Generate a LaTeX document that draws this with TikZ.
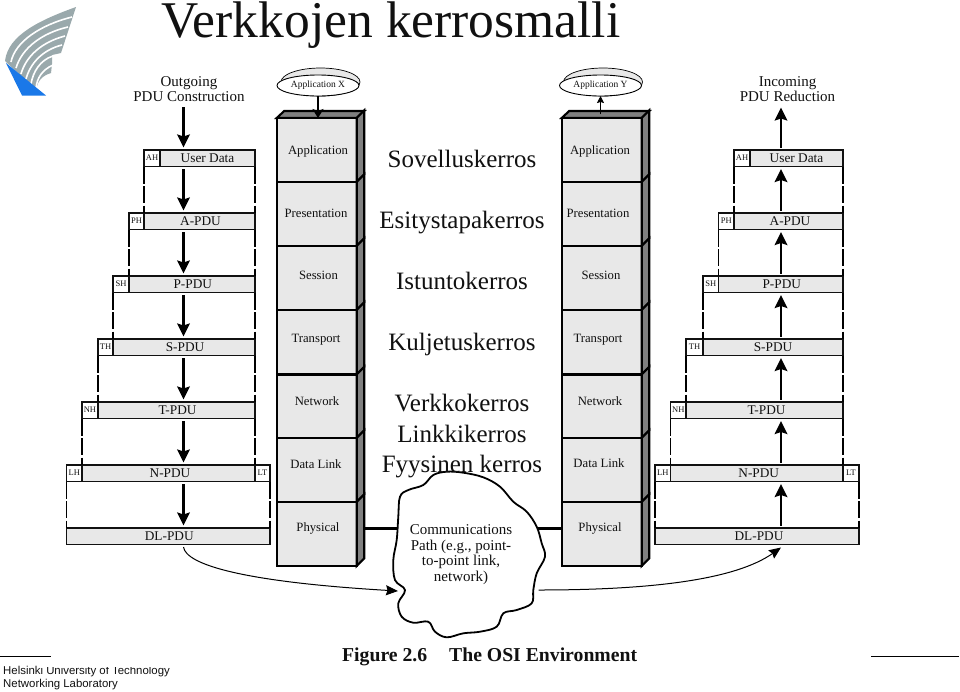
\documentclass[tikz,border=0pt]{standalone}
\usepackage{fontspec}
\setmainfont{Liberation Serif}
\newfontfamily\arialfont{Liberation Sans}
\usetikzlibrary{arrows.meta,calc,shapes.geometric}
\definecolor{layerfill}{HTML}{E8E8E8}
\definecolor{sidefill}{HTML}{808080}
\definecolor{ink}{HTML}{111111}
\definecolor{logogrey}{HTML}{9AA9AC}
\definecolor{logoblue}{HTML}{1A78E8}
\newcommand{\fs}[1]{\fontsize{#1}{#1}\selectfont}
% \pdubox{name}{x1}{x2}{y1}{text}{fill}{font size}
\newcommand{\pdubox}[7]{%
  \pgfmathsetmacro{\bw}{#3-#2}\pgfmathsetmacro{\cx}{(#3+#2)/2}\pgfmathsetmacro{\cy}{#4+8.25}%
  \node[pdurect,fill=#6,minimum width=\bw pt] (#1) at (\cx,\cy) {\fs{#7}\raisebox{1.2pt}{#5}};}
% \layerbox{name}{x1}{y1}{y2}{labelx}{baseline}{text}
\newcommand{\layerbox}[7]{%
  \pgfmathsetmacro{\cx}{#2+40}\pgfmathsetmacro{\cy}{(#3+#4)/2}\pgfmathsetmacro{\bh}{#4-#3}%
  \node[layerrect,minimum height=\bh pt] (#1) at (\cx,\cy) {};
  \node[layertext] (#1t) at (#5,#6) {#7};
  \draw[stackline,fill=sidefill] (#2+80,#4) -- (#2+87.5,#4-7.5) -- (#2+87.5,#3-7.5) -- (#2+80,#3) -- cycle;}
\tikzset{
  x=1pt,y=-1pt,
  pdurect/.style={draw=ink,line width=1.1pt,minimum height=16.5pt,inner sep=0pt,outer sep=0pt,text=ink},
  layerrect/.style={draw=black,line width=2.1pt,fill=layerfill,minimum width=80pt,inner sep=0pt,outer sep=0pt},
  stackline/.style={draw=black,line width=2.1pt,line join=miter},
  layertext/.style={font=\fs{12.7},text=ink,inner sep=0pt,anchor=base},
  fintext/.style={font=\fs{25},text=ink,inner sep=0pt,anchor=base},
  captext/.style={font=\fs{15},text=ink,inner sep=0pt,align=center},
  flowarrow/.style={draw=black,line width=2.4pt,-{Stealth[length=13pt,width=12.5pt,inset=2pt]},shorten <=2.5pt,shorten >=2.5pt},
  guide/.style={draw=black,line width=1.05pt,dash pattern=on 17pt off 2.5pt},
  curvearrow/.style={draw=black,line width=1pt,-{Stealth[length=12pt,width=10pt,inset=1.5pt]}},
  linkline/.style={draw=black,line width=3pt},
  appoval/.style={ellipse,draw=black,fill=white,line width=0.9pt,minimum width=82pt,minimum height=21pt,inner sep=0pt,outer sep=0pt,font=\fs{9.5},text=ink},
  appback/.style={draw=black,fill=layerfill,line width=0.7pt},
}
\begin{document}
\begin{tikzpicture}
\useasboundingbox (0,0) rectangle (960,691);
\fill[white] (0,0) rectangle (960,691);

% logo
\fill[logogrey] (5,61) .. controls (8,35) and (40,20) .. (76,7) -- (61,53) -- (52,55) -- (52,64) -- (51,73) .. controls (42,76) and (38,80) .. (36,90) -- cycle;
\foreach \a/\b/\c/\d in {{11,62}/{15,42}/{40,25}/{72,17},{16,68}/{22,48}/{42,33}/{68,27},{21,74}/{26,56}/{42,42}/{65,36},{26,79}/{30,64}/{42,50}/{62,45},{31,84}/{33,72}/{40,60}/{53,56},{36,88}/{37,78}/{42,70}/{53,65}}
  \draw[white,line width=1.6pt] (\a) .. controls (\b) and (\c) .. (\d);
\fill[logoblue] (6,63) -- (46,95.5) -- (22,95.5) -- cycle;

% title
\node[anchor=base,inner sep=0pt,font=\fs{51.5},text=ink] (title) at (391,37) {Verkkojen kerrosmalli};

% left PDU column
\node[captext] (outgoing) at (189,89) {Outgoing\\[0.5pt]PDU Construction};
\pdubox{ah}{144}{160}{150}{AH}{white}{8.5}
\pdubox{ud}{160}{255}{150}{User Data}{layerfill}{13.3}
\pdubox{ph}{129}{144}{213}{PH}{white}{8.5}
\pdubox{apdu}{144}{255}{213}{\hspace{2pt}A-PDU}{layerfill}{13.3}
\pdubox{sh}{113}{129}{276}{SH}{white}{8.5}
\pdubox{ppdu}{129}{255}{276}{\hspace{1.5pt}P-PDU}{layerfill}{13.3}
\pdubox{th}{98}{113}{339}{TH}{white}{8.5}
\pdubox{spdu}{113}{255}{339}{\hspace{2pt}S-PDU}{layerfill}{13.3}
\pdubox{nh}{82}{98}{402}{NH}{white}{8.5}
\pdubox{tpdu}{98}{255}{402}{\hspace{2pt}T-PDU}{layerfill}{13.3}
\pdubox{lh}{66.5}{82}{465}{LH}{white}{8.5}
\pdubox{npdu}{82}{255}{465}{\hspace{3pt}N-PDU}{layerfill}{13.3}
\pdubox{lt}{255}{270}{465}{LT}{white}{8.5}
\pdubox{dl}{66.5}{270}{528}{\hspace{2pt}DL-PDU}{layerfill}{13.3}

\coordinate (axl) at (183.5,0);
\draw[flowarrow] ([yshift=-3pt]axl |- outgoing.south) -- (axl |- ud.north);
\draw[flowarrow] (axl |- ud.south) -- (axl |- apdu.north);
\draw[flowarrow] (axl |- apdu.south) -- (axl |- ppdu.north);
\draw[flowarrow] (axl |- ppdu.south) -- (axl |- spdu.north);
\draw[flowarrow] (axl |- spdu.south) -- (axl |- tpdu.north);
\draw[flowarrow] (axl |- tpdu.south) -- (axl |- npdu.north);
\draw[flowarrow] (axl |- npdu.south) -- (axl |- dl.north);

\draw[guide] (ah.south west) -- (apdu.north west);
\draw[guide] (ud.south east) -- (apdu.north east);
\draw[guide] (ph.south west) -- (ppdu.north west);
\draw[guide] (apdu.south east) -- (ppdu.north east);
\draw[guide] (sh.south west) -- (spdu.north west);
\draw[guide] (ppdu.south east) -- (spdu.north east);
\draw[guide] (th.south west) -- (tpdu.north west);
\draw[guide] (spdu.south east) -- (tpdu.north east);
\draw[guide] (nh.south west) -- (npdu.north west);
\draw[guide] (tpdu.south east) -- (npdu.north east);
\draw[guide] (lh.south west) -- (dl.north west);
\draw[guide] (lt.south east) -- (dl.north east);

% right PDU column
\node[captext] (incoming) at (787.5,89) {Incoming\\[0.5pt]PDU Reduction};
\pdubox{rah}{734}{750}{150}{AH}{white}{8.5}
\pdubox{rud}{750}{843}{150}{User Data}{layerfill}{13.3}
\pdubox{rph}{718.5}{734}{213}{PH}{white}{8.5}
\pdubox{rapdu}{734}{843}{213}{\hspace{3pt}A-PDU}{layerfill}{13.3}
\pdubox{rsh}{703}{718.5}{276}{SH}{white}{8.5}
\pdubox{rppdu}{718.5}{843}{276}{\hspace{2pt}P-PDU}{layerfill}{13.3}
\pdubox{rth}{686}{703}{339}{TH}{white}{8.5}
\pdubox{rspdu}{703}{843}{339}{S-PDU}{layerfill}{13.3}
\pdubox{rnh}{670.5}{686}{402}{NH}{white}{8.5}
\pdubox{rtpdu}{686}{843}{402}{\hspace{4pt}T-PDU}{layerfill}{13.3}
\pdubox{rlh}{655}{670.5}{465}{LH}{white}{8.5}
\pdubox{rnpdu}{670.5}{843}{465}{\hspace{4pt}N-PDU}{layerfill}{13.3}
\pdubox{rlt}{843}{859}{465}{LT}{white}{8.5}
\pdubox{rdl}{655}{859}{528}{\hspace{4pt}DL-PDU}{layerfill}{13.3}

\coordinate (axr) at (781,0);
\draw[flowarrow] (axr |- rud.north) -- ([yshift=-3pt]axr |- incoming.south);
\draw[flowarrow] (axr |- rapdu.north) -- (axr |- rud.south);
\draw[flowarrow] (axr |- rppdu.north) -- (axr |- rapdu.south);
\draw[flowarrow] (axr |- rspdu.north) -- (axr |- rppdu.south);
\draw[flowarrow] (axr |- rtpdu.north) -- (axr |- rspdu.south);
\draw[flowarrow] (axr |- rnpdu.north) -- (axr |- rtpdu.south);
\draw[flowarrow] (axr |- rdl.north) -- (axr |- rnpdu.south);

\draw[guide] (rah.south west) -- (rapdu.north west);
\draw[guide] (rud.south east) -- (rapdu.north east);
\draw[guide] (rph.south west) -- (rppdu.north west);
\draw[guide] (rapdu.south east) -- (rppdu.north east);
\draw[guide] (rsh.south west) -- (rspdu.north west);
\draw[guide] (rppdu.south east) -- (rspdu.north east);
\draw[guide] (rth.south west) -- (rtpdu.north west);
\draw[guide] (rspdu.south east) -- (rtpdu.north east);
\draw[guide] (rnh.south west) -- (rnpdu.north west);
\draw[guide] (rtpdu.south east) -- (rnpdu.north east);
\draw[guide] (rlh.south west) -- (rdl.north west);
\draw[guide] (rlt.south east) -- (rdl.north east);

% left stack
\draw[stackline,fill=sidefill] (276.7,118) -- (284.2,111) -- (364.2,111) -- (356.7,118) -- cycle;
\layerbox{la}{276.7}{118}{182}{318}{154.5}{Application}
\layerbox{lp}{276.7}{182}{246}{316}{217}{Presentation}
\layerbox{ls}{276.7}{246}{310}{318.5}{279}{Session}
\layerbox{lr}{276.7}{310}{374.5}{316}{342.5}{Transport}
\layerbox{ln}{276.7}{374.5}{438}{317}{405.5}{Network}
\layerbox{ld}{276.7}{438}{502}{316}{468}{Data Link}
\layerbox{lf}{276.7}{502}{566}{318}{531.5}{Physical}

% right stack
\draw[stackline,fill=sidefill] (561.7,118) -- (569.2,111) -- (649.2,111) -- (641.7,118) -- cycle;
\layerbox{ra}{561.7}{118}{182}{600}{154.5}{Application}
\layerbox{rp}{561.7}{182}{246}{598}{217}{Presentation}
\layerbox{rs}{561.7}{246}{310}{601}{279}{Session}
\layerbox{rr}{561.7}{310}{374.5}{598}{342.5}{Transport}
\layerbox{rn}{561.7}{374.5}{438}{600}{405.5}{Network}
\layerbox{rd}{561.7}{438}{502}{599}{467.5}{Data Link}
\layerbox{rf}{561.7}{502}{566}{600}{531.5}{Physical}

% application ovals
\draw[appback] (320.5,82) ellipse [x radius=39.5,y radius=14];
\node[appoval] (appx) at (318,85.5) {Application X};
\draw[appback] (603,82) ellipse [x radius=39.5,y radius=14];
\node[appoval] (appy) at (600.5,85.5) {Application Y};
\draw[draw=black,line width=1.6pt,-{Stealth[length=9pt,width=11pt,inset=2pt]}] (appx.south) -- (la.north -| appx.south);
\draw[draw=black,line width=1pt,-{Stealth[length=7pt,width=7pt,inset=1pt]}] ([yshift=4pt]ra.north -| appy.south) -- (appy.south);

% links to cloud
\coordinate (cloudl) at (400,528);
\coordinate (cloudr) at (536,528);
\coordinate (sidel) at (364,528);
\draw[linkline] (sidel) -- (cloudl);
\draw[linkline] (cloudr) -- (cloudr -| rf.west);

% cloud
\draw[black,line width=1.8pt,fill=white] plot[smooth cycle,tension=0.6] coordinates {
(446.7,471.7) (463.3,472.7) (483.3,477.3) (500,486.7) (513.3,501.7) (526.7,511.7) (536.7,526.7) (541.7,543.3) (545,556.7) (536.7,573.3) (533.3,590) (531.7,603.3) (516.7,610) (503.3,613.3) (496.7,626.7) (480,631.7) (463.3,633.3) (446.7,637.3) (435,631.7) (428.3,621.7) (413.3,622.7) (401.7,616.7) (398.3,603.3) (405,590) (395,580) (393.3,560) (396.7,540) (398.3,516.7) (400,496.7) (408.3,490) (423.3,485) (433.3,475)};
\node[captext,inner sep=0pt] (cloudtext) at (461,554.5) {Communications\\[0.6pt]Path (e.g., point-\\[0.6pt]to-point link,\\[0.6pt]network)};

% Finnish labels
\node[fintext] (f1) at (462,167) {Sovelluskerros};
\node[fintext] (f2) at (462,228) {Esitystapakerros};
\node[fintext] (f3) at (462,289) {Istuntokerros};
\node[fintext] (f4) at (462,350) {Kuljetuskerros};
\node[fintext] (f5) at (462,411) {Verkkokerros};
\node[fintext] (f6) at (462,442) {Linkkikerros};
\node[fintext] (f7) at (462,472) {Fyysinen kerros};

% curves through the cloud
\coordinate (cl) at (398,591);
\coordinate (cr) at (538.5,590);
\draw[curvearrow] ([yshift=-2.5pt]axl |- dl.south) .. controls (186,565) and (245,582) .. (cl);
\draw[curvearrow] (cr) .. controls (650,590) and (735,580) .. ([yshift=-3pt]axr |- rdl.south);

% caption
\node[anchor=base west,inner sep=0pt,font=\bfseries\fs{19.7},text=ink] (fig) at (342,661) {Figure 2.6\hspace{22pt}The OSI Environment};

% footer
\coordinate (fl1) at (0,656.3);\coordinate (fl2) at (51,656.3);
\coordinate (fr1) at (871,656.3);\coordinate (fr2) at (959,656.3);
\draw[black,line width=0.9pt] (fl1) -- (fl2);
\draw[black,line width=0.9pt] (fr1) -- (fr2);
\node[anchor=base west,inner sep=0pt,font=\arialfont\fs{11.4},text=ink] (hut) at (3,674) {Helsinki University of Technology};
\fill[white] (37,660) rectangle (190,667);
\node[anchor=base west,inner sep=0pt,font=\arialfont\fs{11.4},text=ink] (lab) at (3,687.5) {Networking Laboratory};
\end{tikzpicture}
\end{document}
